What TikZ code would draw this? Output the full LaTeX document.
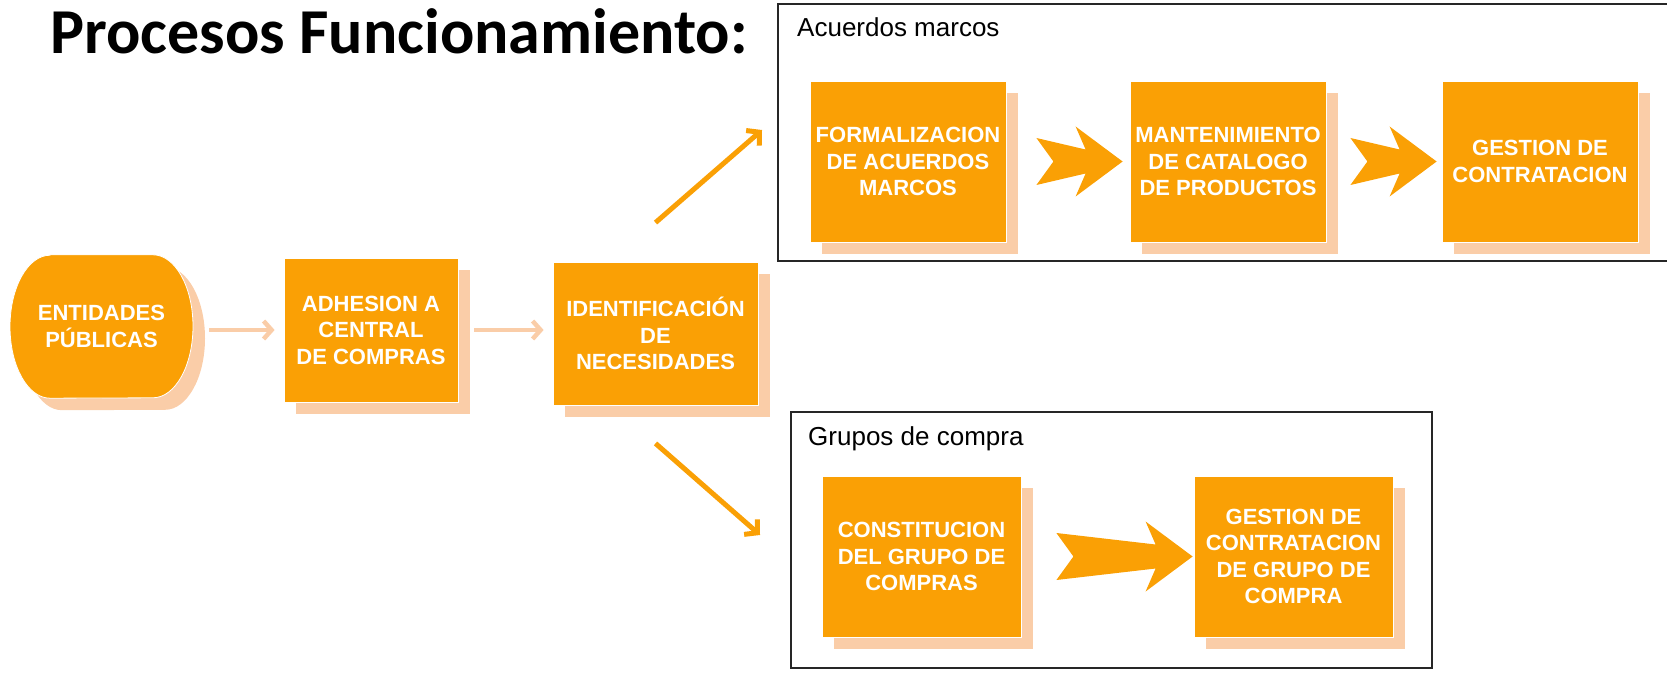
\documentclass[tikz,border=0pt]{standalone}
\usepackage{fontspec}
\setmainfont{Liberation Sans}
\newfontfamily\titlefont{Carlito}
\usetikzlibrary{positioning,calc,shadows,arrows.meta,backgrounds}

\definecolor{boxorange}{RGB}{250,160,5}
\definecolor{boxpeach}{RGB}{250,205,168}

% notched arrow between two blocks
\newcommand{\notcharrow}[2]{%
  \fill[boxorange] let \p1=(#1), \p2=(#2) in
    (\x1,\y2+23.5pt) -- (\x2-37pt,\y2+12pt) -- (\x2-47pt,\y2+35pt) -- (\x2,\y2)
    -- (\x2-47pt,\y2-35pt) -- (\x2-37pt,\y2-12pt) -- (\x1,\y2-23.5pt) -- (\x1+17pt,\y2) -- cycle;}

\begin{document}
\begin{tikzpicture}[x=1pt, y=-1pt,
  block/.style={fill=boxorange, draw=white, line width=0.8pt, text=white, align=center, inner sep=0pt,
    font=\bfseries\fontsize{22}{26.5}\selectfont, minimum width=196pt, minimum height=161pt,
    drop shadow={shadow xshift=12pt, shadow yshift=-12pt, fill=boxpeach, opacity=1}},
  feed/.style={-{Straight Barb[length=8pt,width=18pt]}, line width=4.5pt, color=boxpeach, shorten <=16pt, shorten >=9pt},
  branch/.style={-{Straight Barb[length=9pt,width=20pt]}, line width=5pt, color=boxorange},
  frame/.style={draw=black!85, line width=1.3pt},
  framelabel/.style={anchor=base west, inner sep=0pt, font=\fontsize{26}{30}\selectfont}]

  \useasboundingbox (0,0) rectangle (1667,695);

  % Title
  \node[anchor=base west, inner sep=0pt, font=\titlefont\bfseries\fontsize{64}{72}\selectfont] (title) at (50,54) {Procesos Funcionamiento:};

  % Frames
  \draw[frame] (1667,4) -- (778,4) -- (778,261) -- (1667,261);
  \node[framelabel] (acuT) at (797,37) {Acuerdos marcos};
  \draw[frame] (791,412) rectangle (1432,668);
  \node[framelabel] (gruT) at (808,445) {Grupos de compra};

  % Left row
  \node[text=white, align=center, inner sep=0pt, font=\bfseries\fontsize{22}{26.5}\selectfont,
    minimum width=183pt, minimum height=143pt] (ENT) at (101.5,326.5) {ENTIDADES\\PÚBLICAS};
  \node[block, minimum width=174pt, minimum height=144pt] (ADH) at (371,330) {ADHESION A\\CENTRAL\\DE COMPRAS};
  \node[block, minimum width=205pt, minimum height=143pt] (IDENT) at (655.5,333.5) {IDENTIFICACIÓN\\DE\\NECESIDADES};

  \begin{scope}[on background layer]
    \fill[boxpeach] ([shift={(-39.5pt,-12pt)}]ENT.north) -- ([shift={(63.5pt,-12pt)}]ENT.north)
      arc[start angle=90, end angle=-90, x radius=40pt, y radius=71.5pt]
      -- ([shift={(-39.5pt,-12pt)}]ENT.south)
      arc[start angle=270, end angle=90, x radius=40pt, y radius=71.5pt] -- cycle;
    \fill[boxorange, draw=white, line width=0.8pt] ([xshift=-51.5pt]ENT.north) -- ([xshift=51.5pt]ENT.north)
      arc[start angle=90, end angle=-90, x radius=40pt, y radius=71.5pt]
      -- ([xshift=-51.5pt]ENT.south)
      arc[start angle=270, end angle=90, x radius=40pt, y radius=71.5pt] -- cycle;
  \end{scope}

  % Acuerdos marcos row
  \node[block] (FORM) at (908,161.5) {FORMALIZACION\\DE ACUERDOS\\MARCOS};
  \node[block, right of=FORM, node distance=320pt] (MANT) {MANTENIMIENTO\\DE CATALOGO\\DE PRODUCTOS};
  \node[block, right of=MANT, node distance=312pt] (GESA) {GESTION DE\\CONTRATACION};

  % Grupos de compra row
  \node[block, minimum width=199pt] (CONS) at (921.5,556.5) {CONSTITUCION\\DEL GRUPO DE\\COMPRAS};
  \node[block, minimum width=199pt, right of=CONS, node distance=372pt] (GESG) {GESTION DE\\CONTRATACION\\DE GRUPO DE\\COMPRA};

  % Light arrows
  \draw[feed] (ENT.east |- ADH.west) -- (ADH.west);
  \draw[feed] (ADH.east) -- (ADH.east -| IDENT.west);

  % Branches
  \coordinate (acuIn) at (762,130);
  \coordinate (gruIn) at (760,535);
  \draw[branch] ([yshift=39pt]IDENT.north) -- (acuIn);
  \draw[branch] ([yshift=-38pt]IDENT.south) -- (gruIn);

  % Notched arrows
  \notcharrow{[xshift=30pt]FORM.east}{[xshift=-7pt]MANT.west}
  \notcharrow{[xshift=24pt]MANT.east}{[xshift=-5pt]GESA.west}
  \notcharrow{[xshift=35pt]CONS.east}{[xshift=-1pt]GESG.west}

\end{tikzpicture}
\end{document}
